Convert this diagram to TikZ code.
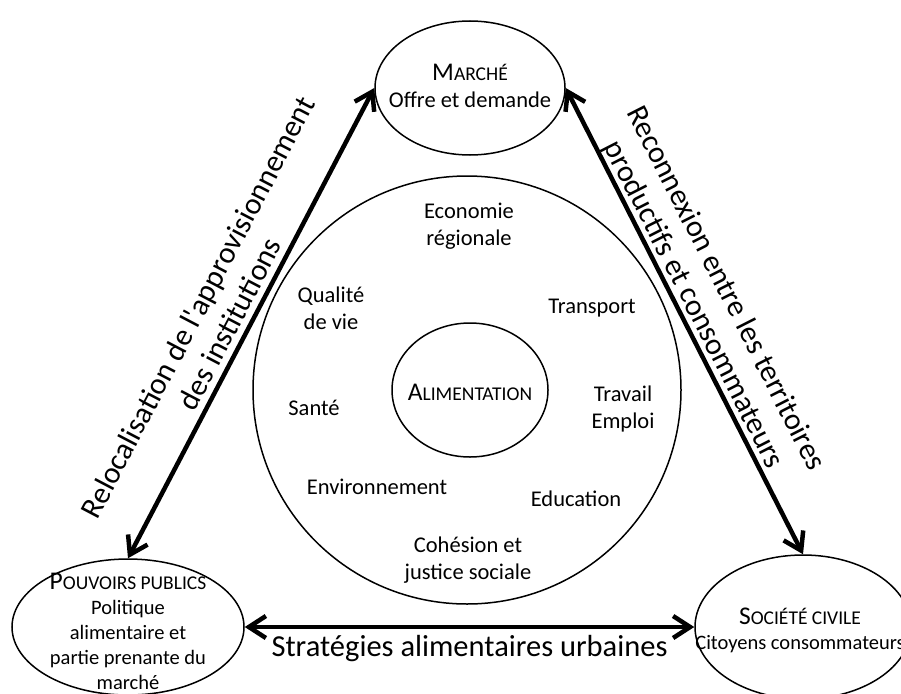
\documentclass[tikz,border=0pt]{standalone}
\usepackage{fontspec}
\setmainfont{Carlito}[Ligatures=TeXOff]
\usetikzlibrary{shapes.geometric,arrows.meta}
\newcommand\capsA[2]{{\fontsize{25.5}{27}\selectfont #1}{\fontsize{19.5}{27}\selectfont #2}}
\begin{document}
\begin{tikzpicture}[x=1pt,y=-1pt,
  oval/.style={draw, ellipse, line width=1.5pt, inner sep=0pt},
  lbl/.style={align=center, inner sep=0pt, font=\fontsize{22.5}{27}\selectfont},
  smalltxt/.style={align=center, inner sep=0pt, font=\fontsize{20.5}{25}\selectfont},
  bigtxt/.style={align=center, inner sep=0pt, font=\fontsize{30.5}{36}\selectfont},
  link/.style={line width=4.5pt, {Straight Barb[length=17pt,width=22pt]}-{Straight Barb[length=17pt,width=22pt]}}]
\useasboundingbox (0,0) rectangle (901,693);
\node[oval, minimum width=190pt, minimum height=134pt] (marche) at (470,88) {};
\node[oval, minimum width=428pt, minimum height=428pt] (world) at (467,390) {};
\node[oval, minimum width=156pt, minimum height=134pt] (alim) at (470,390) {};
\node[oval, minimum width=232pt, minimum height=136pt] (pp) at (128,627) {};
\node[oval, minimum width=216pt, minimum height=144pt] (soc) at (803,627) {};

\node[lbl] (marchet) at (470,86) {\capsA{M}{ARCHÉ}\\Offre et demande};
\node[smalltxt] (ppt) at (128,631) {\capsA{P}{OUVOIRS PUBLICS}\\Politique\\alimentaire et\\partie prenante du\\marché};
\node[smalltxt] (soct) at (800,630) {\capsA{S}{OCIÉTÉ CIVILE}\\Citoyens consommateurs};

\node[lbl] (alimt) at (470,392) {\capsA{A}{LIMENTATION}};
\node[lbl] (eco) at (469,226) {Economie\\régionale};
\node[lbl] (qual) at (331,308) {Qualité\\de vie};
\node[lbl] (transp) at (592,308) {Transport};
\node[lbl] (sante) at (314,408) {Santé};
\node[lbl] (trav) at (623,409) {Travail\\Emploi};
\node[lbl] (env) at (377,487) {Environnement};
\node[lbl] (educ) at (576,499) {Education};
\node[lbl] (coh) at (468,560) {Cohésion et\\justice sociale};

\draw[link] (pp.north) -- node[bigtxt, sloped, above=6pt, pos=0.48] (reloc) {Relocalisation de l'approvisionnement\\des institutions} (marche.west);
\draw[link] (marche.east) -- node[bigtxt, sloped, above=0pt, pos=0.48] (recon) {Reconnexion entre les territoires\\productifs et consommateurs} (soc.north);
\draw[link] (pp.east) -- node[bigtxt, below=6pt] (strat) {Stratégies alimentaires urbaines} (soc.west);
\end{tikzpicture}
\end{document}
